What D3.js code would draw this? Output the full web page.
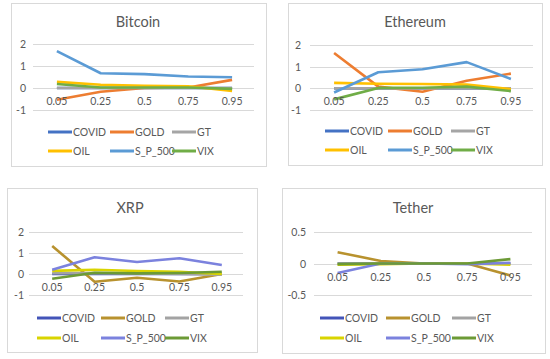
<!DOCTYPE html>
<html>
<head>
<meta charset="utf-8">
<script src="https://cdn.jsdelivr.net/npm/d3@7.9.0/dist/d3.min.js"></script>
<style>
  html, body { margin: 0; padding: 0; background: #fff; }
  svg { display: block; font-family: Lato, "Open Sans", sans-serif; }
</style>
</head>
<body>
<svg id="chart" width="550" height="359"></svg>
<script>
// ====== DATA ======

const quantiles = ['0.05', '0.25', '0.5', '0.75', '0.95'];
const seriesNames = ['COVID', 'GOLD', 'GT', 'OIL', 'S_P_500', 'VIX'];

// rows follow seriesNames order
const bitcoinValues = [
  [0, 0, 0, 0, 0],
  [-0.53, -0.17, 0, 0.02, 0.37],
  [0, 0, 0, 0, 0],
  [0.28, 0.15, 0.1, 0.08, -0.13],
  [1.68, 0.67, 0.63, 0.52, 0.49],
  [0.18, 0.02, 0.02, 0.02, -0.04]
];

const ethereumValues = [
  [0, 0, 0, 0, 0],
  [1.63, 0.08, -0.16, 0.35, 0.68],
  [0, 0, 0, 0, 0],
  [0.25, 0.21, 0.2, 0.17, -0.04],
  [-0.19, 0.74, 0.88, 1.21, 0.43],
  [-0.51, 0.02, 0.03, 0.08, -0.13]
];

const xrpValues = [
  [0, 0, 0, 0, 0],
  [1.33, -0.37, -0.18, -0.36, 0.0],
  [0.04, 0.04, 0.03, 0.0, -0.03],
  [0.15, 0.2, 0.14, 0.1, 0.0],
  [0.2, 0.8, 0.57, 0.75, 0.43],
  [-0.23, 0.06, 0.03, 0.05, 0.11]
];

const tetherValues = [
  [0, 0, 0, 0, 0],
  [0.18, 0.04, 0, 0, -0.19],
  [0, 0, 0, 0, 0],
  [-0.02, -0.01, 0, 0, -0.02],
  [-0.15, 0, 0, -0.01, 0.01],
  [-0.01, 0, 0, 0, 0.07]
];

const bigTicks = [-1, 0, 1, 2];
const smallTicks = [-0.5, 0, 0.5];

const officeColors = ['#4472C4', '#ED7D31', '#A5A5A5', '#FFC000', '#5B9BD5', '#70AD47'];
const mutedColors = ['#4354B8', '#B8922E', '#A3A3A3', '#D9D400', '#7B82DE', '#6C9A36'];

// ====== PANELS ======

const panels = [
  {
    title: 'Bitcoin', values: bitcoinValues, colors: officeColors, ticks: bigTicks,
    box: [11, 3, 266, 166], titleX: 138, titleY: 27, x: [35, 254], y: [110, 44], tickX: 26,
    legend: { x: 48, y: 132, col: 62, row: 19 }
  },
  {
    title: 'Ethereum', values: ethereumValues, colors: officeColors, ticks: bigTicks,
    box: [288, 3, 542, 165], titleX: 415, titleY: 27, x: [312, 533], y: [110, 45], tickX: 301,
    legend: { x: 325, y: 131, col: 63, row: 19 }
  },
  {
    title: 'XRP', values: xrpValues, colors: mutedColors, ticks: bigTicks,
    box: [7, 188, 257, 352], titleX: 130, titleY: 213, x: [31, 243], y: [295, 232], tickX: 24,
    legend: { x: 37, y: 318, col: 64, row: 20 }
  },
  {
    title: 'Tether', values: tetherValues, colors: mutedColors, ticks: smallTicks,
    box: [282, 188, 545, 353], titleX: 413, titleY: 213, x: [316, 532], y: [295, 232], tickX: 306,
    legend: { x: 320, y: 318, col: 66, row: 20 }
  }
];

const svg = d3.select('#chart');

function drawPanel(p) {
  const g = svg.append('g');
  const [x0, y0, x1, y1] = p.box;

  g.append('rect')
    .attr('x', x0 + 0.5).attr('y', y0 + 0.5)
    .attr('width', x1 - x0).attr('height', y1 - y0)
    .attr('fill', '#fff')
    .attr('stroke', '#D9D9D9');

  g.append('text')
    .attr('x', p.titleX)
    .attr('y', p.titleY)
    .attr('text-anchor', 'middle')
    .attr('font-size', 14.5)
    .attr('fill', '#595959')
    .text(p.title);

  const x = d3.scalePoint().domain(quantiles).range(p.x).padding(0.5);
  const y = d3.scaleLinear().domain(d3.extent(p.ticks)).range(p.y);

  // gridlines
  g.selectAll('.grid')
    .data(p.ticks)
    .join('line')
    .attr('x1', p.x[0] - 2).attr('x2', p.x[1])
    .attr('y1', (d) => Math.round(y(d)) + 0.5)
    .attr('y2', (d) => Math.round(y(d)) + 0.5)
    .attr('stroke', '#D9D9D9');

  // value labels
  g.selectAll('.ytick')
    .data(p.ticks)
    .join('text')
    .attr('x', p.tickX)
    .attr('y', (d) => y(d) + 4)
    .attr('text-anchor', 'end')
    .attr('font-size', 10.5)
    .attr('fill', '#595959')
    .text((d) => d);

  const line = d3.line()
    .x((d, i) => x(quantiles[i]))
    .y((d) => y(d));

  g.selectAll('.series')
    .data(p.values)
    .join('path')
    .attr('d', line)
    .attr('fill', 'none')
    .attr('stroke', (d, i) => p.colors[i])
    .attr('stroke-width', 2.6)
    .attr('stroke-linejoin', 'round');

  // category labels sit under the zero line
  g.selectAll('.xtick')
    .data(quantiles)
    .join('text')
    .attr('x', (d) => x(d))
    .attr('y', y(0) + 17)
    .attr('text-anchor', 'middle')
    .attr('font-size', 10.5)
    .attr('fill', '#595959')
    .text((d) => d);

  // legend, 3 per row
  const items = g.selectAll('.leg')
    .data(seriesNames)
    .join('g')
    .attr('transform', (d, i) =>
      `translate(${p.legend.x + (i % 3) * p.legend.col},${p.legend.y + Math.floor(i / 3) * p.legend.row})`);

  items.append('line')
    .attr('x1', 0).attr('x2', 24)
    .attr('stroke', (d, i) => p.colors[i])
    .attr('stroke-width', 3);

  items.append('text')
    .attr('x', 25)
    .attr('y', 4)
    .attr('font-size', 10.5)
    .attr('fill', '#595959')
    .text((d) => d);
}

panels.forEach(drawPanel);
</script>
</body>
</html>
